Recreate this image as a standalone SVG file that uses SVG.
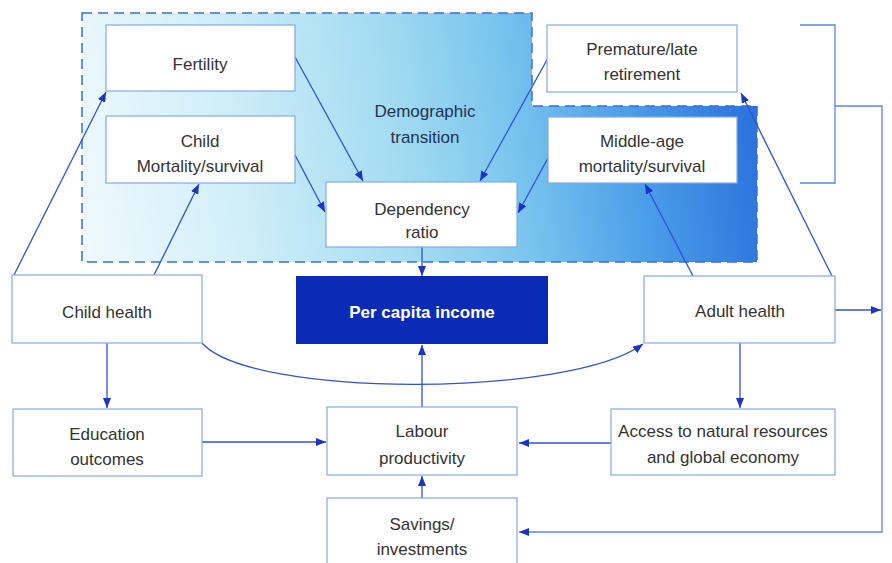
<svg xmlns="http://www.w3.org/2000/svg" width="892" height="563" viewBox="0 0 892 563">
<defs>
<linearGradient id="demo" gradientUnits="userSpaceOnUse" x1="82" y1="230" x2="757" y2="120">
<stop offset="0" stop-color="#eef9fc"/>
<stop offset="0.22" stop-color="#d2eff8"/>
<stop offset="0.48" stop-color="#a2dbf1"/>
<stop offset="0.64" stop-color="#7ac5ee"/>
<stop offset="0.82" stop-color="#4a9de8"/>
<stop offset="1" stop-color="#2a72dc"/>
</linearGradient>
<marker id="arr" markerUnits="userSpaceOnUse" markerWidth="10" markerHeight="8" refX="10" refY="4" orient="auto">
<path d="M0,0 L10,4 L0,8 z" fill="#1c34c4"/>
</marker>
</defs>
<style>
.box{fill:#ffffff;stroke:#86a8e8;stroke-width:1.2}
.t{font-family:"Liberation Sans",Arial,sans-serif;font-size:17px;fill:#333333;text-anchor:middle}
.dt{fill:#1f3552}
.w{fill:#ffffff;font-weight:bold}
.c{fill:none;stroke:#2f52d6;stroke-width:1.3}
.a{marker-end:url(#arr)}
.br{fill:none;stroke:#5b86e0;stroke-width:1.3}
</style>
<rect width="892" height="563" fill="#ffffff"/>
<g id="demographic-transition">
<path d="M82,13 H532 V106 H757 V262 H82 Z" fill="url(#demo)" stroke="#3b6ed8" stroke-width="1.5" stroke-dasharray="10,6"/>
<text class="t dt" x="425" y="117">Demographic</text>
<text class="t dt" x="425" y="143">transition</text>
</g>
<g id="connectors">
<path class="c a" d="M14,275 L106,92"/>
<path class="c a" d="M154,275 L199,184"/>
<path class="c a" d="M295,57 L363,181"/>
<path class="c a" d="M295,155 L325,212"/>
<path class="c a" d="M548,58 L480,181"/>
<path class="c a" d="M548,158 L518,213"/>
<path class="c a" d="M422,247 L422,276"/>
<path class="c a" d="M422,407 L422,345"/>
<path class="c a" d="M422,498 L422,476"/>
<path class="c a" d="M107,343 L107,408"/>
<path class="c a" d="M202,442 L326,442"/>
<path class="c a" d="M611,443 L519,443"/>
<path class="c a" d="M740,343 L740,408"/>
<path class="c a" d="M693,276 L645,184"/>
<path class="c a" d="M832,276 L741,93"/>
<path class="c a" d="M202,343 C250,398 570,398 643,344"/>
<path class="c a" d="M835,310 L881,310"/>
<path class="br" d="M800,25 H835 V183 H800"/>
<path class="br a" d="M835,106 H882 V532 H519"/>
</g>
<g id="fertility">
<rect class="box" x="106" y="25" width="189" height="66"/>
<text class="t" x="200" y="70">Fertility</text>
</g>
<g id="child-mortality">
<rect class="box" x="106" y="116" width="189" height="67"/>
<text class="t" x="200" y="147">Child</text>
<text class="t" x="200" y="172">Mortality/survival</text>
</g>
<g id="dependency-ratio">
<rect class="box" x="326" y="182" width="191" height="65"/>
<text class="t" x="422" y="215">Dependency</text>
<text class="t" x="422" y="238">ratio</text>
</g>
<g id="premature-retirement">
<rect class="box" x="547" y="25" width="190" height="67"/>
<text class="t" x="642" y="55">Premature/late</text>
<text class="t" x="642" y="80">retirement</text>
</g>
<g id="middle-age-mortality">
<rect class="box" x="548" y="117" width="189" height="66"/>
<text class="t" x="642" y="147">Middle-age</text>
<text class="t" x="642" y="172">mortality/survival</text>
</g>
<g id="child-health">
<rect class="box" x="12" y="275" width="190" height="68"/>
<text class="t" x="107" y="318">Child health</text>
</g>
<g id="per-capita-income">
<rect x="296" y="276" width="252" height="68" fill="#0b2bb6"/>
<text class="t w" x="422" y="318">Per capita income</text>
</g>
<g id="adult-health">
<rect class="box" x="644" y="276" width="191" height="67"/>
<text class="t" x="740" y="317">Adult health</text>
</g>
<g id="education-outcomes">
<rect class="box" x="13" y="409" width="189" height="67"/>
<text class="t" x="107" y="440">Education</text>
<text class="t" x="107" y="465">outcomes</text>
</g>
<g id="labour-productivity">
<rect class="box" x="327" y="407" width="190" height="68"/>
<text class="t" x="422" y="437">Labour</text>
<text class="t" x="422" y="464">productivity</text>
</g>
<g id="access-resources">
<rect class="box" x="611" y="409" width="224" height="66"/>
<text class="t" x="723" y="437">Access to natural resources</text>
<text class="t" x="723" y="463">and global economy</text>
</g>
<g id="savings-investments">
<rect class="box" x="327" y="498" width="190" height="70"/>
<text class="t" x="422" y="530">Savings/</text>
<text class="t" x="422" y="555">investments</text>
</g>
</svg>
